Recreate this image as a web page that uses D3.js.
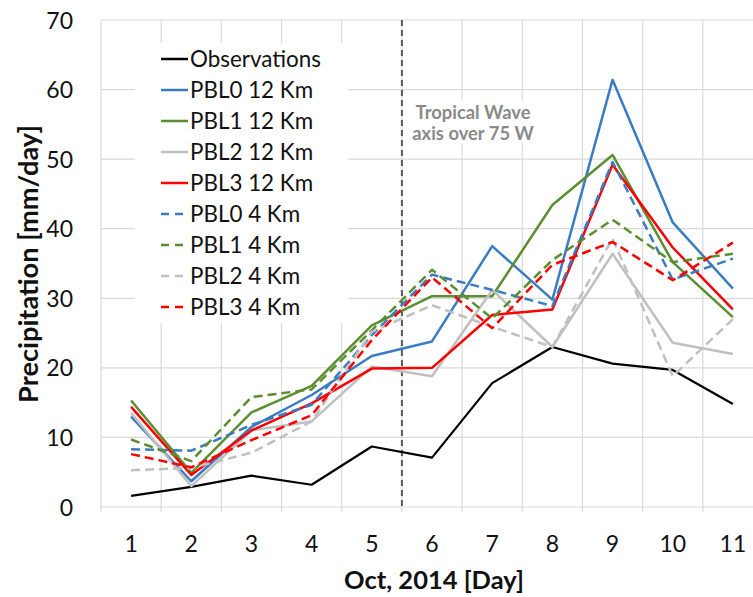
<!DOCTYPE html>
<html>
<head>
<meta charset="utf-8">
<script src="https://cdn.jsdelivr.net/npm/d3@7"></script>
<style>
  html, body { margin: 0; padding: 0; background: #fff; }
  svg { display: block; }
  text { font-family: Lato, "Open Sans", sans-serif; }
</style>
</head>
<body>
<svg id="chart" width="753" height="597"></svg>
<script>
// ---- data ----
const days = ["1","2","3","4","5","6","7","8","9","10","11"];
const yTicks = [0, 10, 20, 30, 40, 50, 60, 70];
const seriesNames = ["Observations","PBL0 12 Km","PBL1 12 Km","PBL2 12 Km","PBL3 12 Km","PBL0 4 Km","PBL1 4 Km","PBL2 4 Km","PBL3 4 Km"];
const observations = [1.6, 2.9, 4.5, 3.2, 8.7, 7.1, 17.8, 23.0, 20.6, 19.7, 14.8];
const pbl0_12 = [13.0, 3.7, 11.5, 16.1, 21.7, 23.8, 37.5, 29.8, 61.4, 40.9, 31.4];
const pbl1_12 = [15.3, 4.9, 13.6, 17.4, 26.1, 30.3, 30.3, 43.4, 50.6, 35.2, 27.3];
const pbl2_12 = [13.5, 3.0, 11.0, 12.3, 20.2, 18.8, 31.2, 23.0, 36.4, 23.6, 22.0];
const pbl3_12 = [14.4, 4.6, 11.0, 14.9, 19.9, 20.0, 27.6, 28.4, 49.2, 37.3, 28.4];
const pbl0_4  = [8.3, 8.1, 11.8, 14.7, 24.7, 33.4, 31.2, 28.9, 49.6, 32.7, 35.7];
const pbl1_4  = [9.7, 6.6, 15.8, 16.9, 25.4, 34.1, 27.1, 35.5, 41.3, 35.2, 36.4];
const pbl2_4  = [5.3, 5.6, 7.8, 12.3, 25.2, 29.0, 25.9, 23.0, 38.6, 18.8, 27.0];
const pbl3_4  = [7.6, 5.7, 9.6, 13.2, 24.0, 33.0, 25.7, 34.8, 38.1, 32.6, 38.0];
const waveDay = "6";
const annotation = ["Tropical Wave", "axis over 75 W"];
const xTitle = "Oct, 2014 [Day]";
const yTitle = "Precipitation [mm/day]";

// ---- styles ----
const seriesValues = [observations, pbl0_12, pbl1_12, pbl2_12, pbl3_12, pbl0_4, pbl1_4, pbl2_4, pbl3_4];
const colors = ["#000000","#3a7cc3","#5a8e30","#c0c0c0","#ff0000","#3a7cc3","#5a8e30","#c0c0c0","#ff0000"];
const dashed = [false,false,false,false,false,true,true,true,true];
const widths = [2.2,2.5,2.5,2.5,2.5,2.5,2.5,2.5,2.5];

const svg = d3.select("#chart");
const mLeft = 101, mRight = 763, mTop = 20, mBottom = 507;

const x = d3.scaleBand().domain(days).range([mLeft, mRight]).padding(0);
const y = d3.scaleLinear().domain([0, 70]).range([mBottom, mTop]);
const xc = d => x(d) + x.bandwidth() / 2;

function fit(sel, target) {
  const base = 20;
  sel.attr("font-size", base);
  const w = sel.node().getComputedTextLength();
  const fs = base * target / w;
  sel.attr("font-size", fs);
  return fs;
}

const plot = svg.append("g");
plot.append("g").selectAll("line").data(yTicks).join("line")
  .attr("x1", mLeft).attr("x2", mRight)
  .attr("y1", d => y(d)).attr("y2", d => y(d))
  .attr("stroke", "#d9d9d9").attr("stroke-width", 1.2);
const bounds = days.map(d => x(d));
plot.append("g").selectAll("line").data(bounds).join("line")
  .attr("x1", d => d).attr("x2", d => d)
  .attr("y1", mTop).attr("y2", mBottom + 5)
  .attr("stroke", "#d9d9d9").attr("stroke-width", 1.2);

// y tick labels
const yAxis = d3.axisLeft(y).tickValues(yTicks).tickSize(0).tickPadding(0);
const gy = svg.append("g").attr("transform", `translate(${mLeft - 28},0)`).call(yAxis);
gy.select(".domain").remove();
gy.selectAll("text").attr("font-size", 23).attr("fill", "#111").attr("font-family", "Lato").attr("dy", "0.35em");

// x tick labels
const xAxis = d3.axisBottom(x).tickSize(0).tickPadding(0);
const gx = svg.append("g").attr("transform", `translate(0,${mBottom + 29})`).call(xAxis);
gx.select(".domain").remove();
gx.selectAll("text").attr("font-size", 23).attr("fill", "#111").attr("font-family", "Lato").attr("dy", "0.71em");

// tropical wave line
const wx = x(waveDay);
svg.append("line").attr("x1", wx).attr("x2", wx).attr("y1", mTop).attr("y2", mBottom)
  .attr("stroke", "#595959").attr("stroke-width", 2).attr("stroke-dasharray", "6,4");

// series
const line = d3.line().x((v, i) => xc(days[i])).y(v => y(v));
svg.append("g").selectAll("path").data(seriesValues).join("path")
  .attr("d", d => line(d))
  .attr("fill", "none")
  .attr("stroke", (d, i) => colors[i])
  .attr("stroke-width", (d, i) => widths[i])
  .attr("stroke-linejoin", "round")
  .attr("stroke-dasharray", (d, i) => dashed[i] ? "9,5" : null);

// legend
const lg = svg.append("g");
lg.append("rect").attr("x", 135).attr("y", 43).attr("width", 213).attr("height", 280).attr("fill", "#fff");
let legFs = null;
seriesNames.forEach((n, i) => {
  const cy = 59 + i * 31;
  lg.append("line").attr("x1", 161).attr("x2", 188).attr("y1", cy).attr("y2", cy)
    .attr("stroke", colors[i]).attr("stroke-width", 2.5)
    .attr("stroke-dasharray", dashed[i] ? "8,6" : null);
  const t = lg.append("text").attr("x", 190).attr("y", cy).attr("dy", "0.35em")
    .attr("fill", "#111").text(n);
  if (legFs === null) legFs = fit(t, 131); else t.attr("font-size", legFs);
});

// annotation
const ag = svg.append("g");
ag.append("rect").attr("x", 409).attr("y", 101).attr("width", 128).attr("height", 42).attr("fill", "#fff");
let aFs = null;
annotation.forEach((s, i) => {
  const t = ag.append("text").attr("x", 473).attr("y", 113 + i * 21).attr("dy", "0.35em")
    .attr("text-anchor", "middle").attr("font-weight", "bold").attr("fill", "#8a8a8a").text(s);
  if (aFs === null) { t.attr("font-size", 20); const w = t.node().getComputedTextLength(); aFs = 20 * 115 / w; }
  t.attr("font-size", aFs);
});

// axis titles
const xt = svg.append("text").attr("x", 434).attr("y", 580).attr("dy", "0.35em")
  .attr("text-anchor", "middle").attr("font-weight", "bold").attr("fill", "#111").text(xTitle);
fit(xt, 180);
const yt = svg.append("text").attr("transform", "translate(28,264) rotate(-90)").attr("dy", "0.35em")
  .attr("text-anchor", "middle").attr("font-weight", "bold").attr("fill", "#111").text(yTitle);
fit(yt, 278);
</script>
</body>
</html>
